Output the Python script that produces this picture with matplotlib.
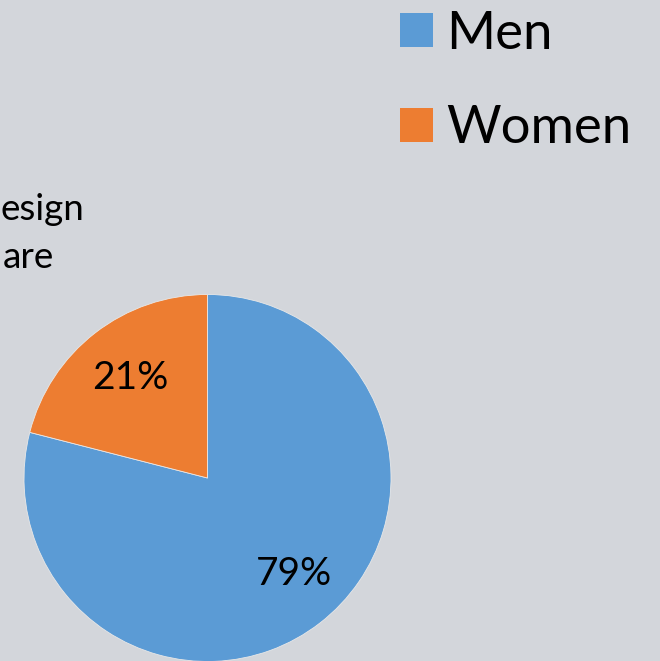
import matplotlib.pyplot as plt
from matplotlib.patches import Patch

# dados
labels = ["Men", "Women"]
shares = [79, 21]
colors = ["#5B9BD5", "#ED7D31"]
title_lines = ["esign", "are"]   # parte visivel do titulo cortado

plt.rcParams['font.family'] = ['Lato', 'DejaVu Sans']

fig = plt.figure(figsize=(6.6, 6.61), dpi=100, facecolor="#d3d6db")
ax = fig.add_axes([0, 0, 1, 1])
ax.set_facecolor("#d3d6db")

# pizza, sentido horario a partir do topo
wedges, texts, autotexts = ax.pie(
    shares, colors=colors, startangle=90, counterclock=False,
    center=(207.5, 183), radius=183.5, frame=True,
    autopct=lambda p: f"{p:.0f}%", pctdistance=0.69,
    wedgeprops=dict(edgecolor="#e8e8e8", linewidth=0.6),
    textprops=dict(fontsize=28, color="black"))

# ajuste fino do rotulo dos 79%
x0, y0 = autotexts[0].get_position()
autotexts[0].set_position((x0 + 9, y0 + 4))

ax.set_xlim(0, 660)
ax.set_ylim(0, 661)
ax.set_aspect("equal")
ax.axis("off")

# titulo (parte visivel)
ax.text(84, 661 - 220, title_lines[0], ha="right", va="baseline", fontsize=26.5)
ax.text(54, 661 - 268, title_lines[1], ha="right", va="baseline", fontsize=26.5)

# legenda
handles = [Patch(facecolor=c, edgecolor="none") for c in colors]
fig.legend(handles, labels, loc="upper left", bbox_to_anchor=(363 / 660, 1 + 26 / 661),
           frameon=False, fontsize=38, handlelength=0.62, handleheight=0.62,
           handletextpad=0.25, labelspacing=0.9, borderpad=0.2)

fig.savefig("out.png", dpi=100, facecolor=fig.get_facecolor())
